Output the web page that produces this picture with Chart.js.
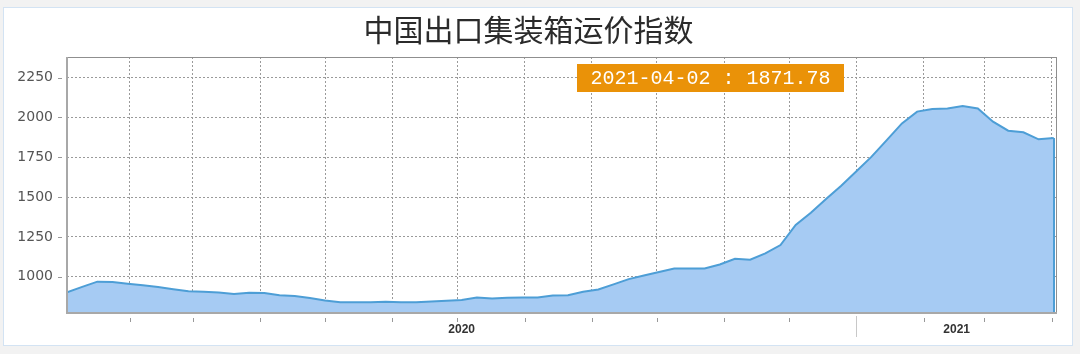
<!DOCTYPE html>
<html>
<head>
<meta charset="utf-8">
<script src="https://cdn.jsdelivr.net/npm/chart.js@4.4.1/dist/chart.umd.min.js"></script>
<style>
  html, body { margin: 0; padding: 0; background: #f2f2f2; }
  canvas { display: block; }
</style>
</head>
<body>
<canvas id="chart" width="1080" height="354"></canvas>
<script>
// weekly CCFI composite
const dates = [
  '2020-01-03','2020-01-10','2020-01-17','2020-01-24','2020-01-31','2020-02-07','2020-02-14','2020-02-21',
  '2020-02-28','2020-03-06','2020-03-13','2020-03-20','2020-03-27','2020-04-03','2020-04-10','2020-04-17',
  '2020-04-24','2020-05-01','2020-05-08','2020-05-15','2020-05-22','2020-05-29','2020-06-05','2020-06-12',
  '2020-06-19','2020-06-26','2020-07-03','2020-07-10','2020-07-17','2020-07-24','2020-07-31','2020-08-07',
  '2020-08-14','2020-08-21','2020-08-28','2020-09-04','2020-09-11','2020-09-18','2020-09-25','2020-10-02',
  '2020-10-09','2020-10-16','2020-10-23','2020-10-30','2020-11-06','2020-11-13','2020-11-20','2020-11-27',
  '2020-12-04','2020-12-11','2020-12-18','2020-12-25','2021-01-01','2021-01-08','2021-01-15','2021-01-22',
  '2021-01-29','2021-02-05','2021-02-12','2021-02-19','2021-02-26','2021-03-05','2021-03-12','2021-03-19',
  '2021-03-26','2021-04-02'
];
const values = [
  902, 936, 969, 966, 956, 946, 935, 921,
  908, 906, 900, 891, 899, 897, 883, 879,
  866, 850, 840, 840, 840, 843, 840, 839,
  845, 849, 853, 870, 863, 868, 870, 870,
  882, 884, 905, 920, 952, 985, 1008, 1030,
  1052, 1052, 1052, 1077, 1113, 1107, 1147, 1199,
  1325, 1402, 1488, 1572, 1662, 1754, 1858, 1963,
  2037, 2053, 2057, 2072, 2057, 1974, 1917, 1907,
  1863, 1871.78
];
const yTicks = [1000, 1250, 1500, 1750, 2000, 2250];
const monthTicks = [
  '2020-02-01','2020-03-01','2020-04-01','2020-05-01','2020-06-01','2020-07-01','2020-08-01',
  '2020-09-01','2020-10-01','2020-11-01','2020-12-01','2021-01-01','2021-02-01','2021-03-01','2021-04-01'
];
const yearLabels = ['2020', '2021'];
const yearStarts = ['2020-01-01', '2021-01-01'];
const title = '中国出口集装箱运价指数';

const day0 = Date.parse(dates[0]);
const dayOf = s => (Date.parse(s) - day0) / 86400000;
const points = dates.map((d, i) => ({ x: dayOf(d), y: values[i] }));
const lastIdx = dates.length - 1;

const decor = {
  id: 'decor',
  beforeDraw(chart) {
    const ctx = chart.ctx;
    ctx.save();
    ctx.fillStyle = '#f2f2f2';
    ctx.fillRect(0, 0, chart.width, chart.height);
    ctx.fillStyle = '#ffffff';
    ctx.fillRect(3.5, 7.5, 1069, 338);
    ctx.strokeStyle = '#d3e3f3';
    ctx.lineWidth = 1;
    ctx.strokeRect(3.5, 7.5, 1069, 338);
    ctx.restore();
  },
  afterDatasetsDraw(chart) {
    const ctx = chart.ctx;
    const a = chart.chartArea;
    const xs = chart.scales.x, ys = chart.scales.y;
    ctx.save();

    // closing edges of the area
    ctx.strokeStyle = '#4d9ed6';
    ctx.lineWidth = 2;
    [0, lastIdx].forEach(i => {
      const px = Math.round(xs.getPixelForValue(points[i].x));
      ctx.beginPath();
      ctx.moveTo(px, ys.getPixelForValue(points[i].y));
      ctx.lineTo(px, a.bottom);
      ctx.stroke();
    });

    // plot frame
    ctx.strokeStyle = '#8f8f8f';
    ctx.lineWidth = 1;
    ctx.strokeRect(a.left + 0.5, a.top + 0.5, a.right - a.left - 1, a.bottom - a.top - 1);
    ctx.strokeStyle = '#a8a8a8';
    ctx.lineWidth = 2;
    ctx.beginPath();
    ctx.moveTo(a.left, a.top);
    ctx.lineTo(a.left, a.bottom);
    ctx.lineTo(a.right, a.bottom);
    ctx.stroke();

    // tick marks
    ctx.lineWidth = 1;
    xs.ticks.forEach(t => {
      const px = Math.round(xs.getPixelForValue(t.value)) + 0.5;
      const isYear = yearStarts.some(s => dayOf(s) === t.value);
      ctx.beginPath();
      ctx.moveTo(px, isYear ? a.bottom + 3 : a.bottom + 5);
      ctx.lineTo(px, isYear ? a.bottom + 24 : a.bottom + 9);
      ctx.strokeStyle = isYear ? '#c8c8c8' : '#999';
      ctx.stroke();
    });
    ctx.strokeStyle = '#999';
    ys.ticks.forEach(t => {
      const py = Math.round(ys.getPixelForValue(t.value)) + 0.5;
      ctx.beginPath();
      ctx.moveTo(a.left - 9, py);
      ctx.lineTo(a.left - 5, py);
      ctx.stroke();
    });

    // year labels, centred in each year's span
    ctx.fillStyle = '#333';
    ctx.font = 'bold 12px "Liberation Sans", sans-serif';
    ctx.textAlign = 'center';
    ctx.textBaseline = 'middle';
    yearLabels.forEach((lab, i) => {
      const from = Math.max(dayOf(yearStarts[i]), xs.min);
      const to = i + 1 < yearStarts.length ? dayOf(yearStarts[i + 1]) : xs.max;
      const cx = (xs.getPixelForValue(from) + xs.getPixelForValue(to)) / 2;
      ctx.fillText(lab, cx, a.bottom + 17);
    });

    // latest value box
    const txt = dates[lastIdx] + ' : ' + values[lastIdx].toFixed(2);
    ctx.fillStyle = '#ea9208';
    ctx.fillRect(577, 64, 267, 28);
    ctx.fillStyle = '#ffffff';
    ctx.font = '20px "Liberation Mono", monospace';
    ctx.fillText(txt, 710.5, 79);
    ctx.restore();
  }
};

new Chart(document.getElementById('chart'), {
  type: 'line',
  data: {
    datasets: [{
      data: points,
      borderColor: '#4d9ed6',
      backgroundColor: '#a6cbf3',
      borderWidth: 2,
      fill: 'start',
      pointRadius: 0,
      tension: 0
    }]
  },
  options: {
    responsive: false,
    animation: false,
    devicePixelRatio: 1,
    layout: { padding: { left: 0, right: 23, top: 0, bottom: 0 } },
    plugins: {
      legend: { display: false },
      tooltip: { enabled: false },
      title: {
        display: true,
        text: title,
        color: '#2b2b2b',
        font: { family: '"Noto Sans CJK SC", sans-serif', size: 30, weight: 'normal', lineHeight: 1.2 },
        padding: { top: 12, bottom: 9 }
      }
    },
    scales: {
      x: {
        type: 'linear',
        min: 0,
        max: dayOf(dates[lastIdx]) + 1.5,
        afterBuildTicks: s => { s.ticks = monthTicks.map(m => ({ value: dayOf(m) })); },
        afterFit: s => { s.height = 41; },
        ticks: { display: false },
        grid: { color: '#9a9a9a', lineWidth: 1, drawTicks: false },
        border: { display: false, dash: [2, 2] }
      },
      y: {
        min: 772,
        max: 2380,
        afterBuildTicks: s => { s.ticks = yTicks.map(v => ({ value: v })); },
        afterFit: s => { s.width = 67; },
        ticks: {
          color: '#555',
          padding: 14,
          font: { family: '"DejaVu Sans", sans-serif', size: 14 },
          callback: v => String(v)
        },
        grid: { color: '#9a9a9a', lineWidth: 1, drawTicks: false },
        border: { display: false, dash: [2, 2] }
      }
    }
  },
  plugins: [decor]
});
</script>
</body>
</html>
